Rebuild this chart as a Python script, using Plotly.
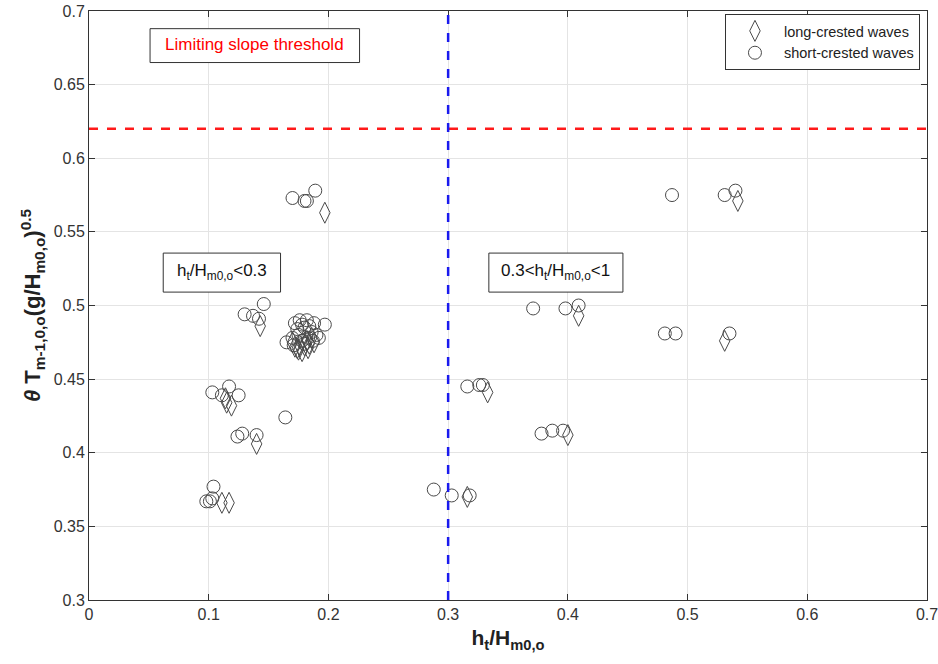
import plotly.graph_objects as go

# long-crested waves (diamonds)
long_x = [0.197, 0.143, 0.170, 0.172, 0.174, 0.176, 0.178, 0.180, 0.182, 0.184, 0.186, 0.188, 0.175, 0.183,
          0.114, 0.115, 0.119, 0.140, 0.111, 0.117,
          0.316, 0.333, 0.400, 0.409, 0.542, 0.531]
long_y = [0.563, 0.486, 0.475, 0.472, 0.471, 0.473, 0.469, 0.473, 0.476, 0.474, 0.478, 0.475, 0.470, 0.471,
          0.437, 0.434, 0.432, 0.406, 0.366, 0.366,
          0.370, 0.441, 0.412, 0.493, 0.571, 0.476]

# short-crested waves (circles)
short_x = [0.170, 0.180, 0.182, 0.189,
           0.130, 0.137, 0.142, 0.146,
           0.165, 0.170, 0.172, 0.174, 0.176, 0.178, 0.180, 0.182, 0.184, 0.186, 0.188, 0.190, 0.192, 0.197,
           0.175, 0.178, 0.183, 0.187, 0.171, 0.180,
           0.164, 0.103, 0.117, 0.125, 0.111, 0.124, 0.128, 0.140,
           0.104, 0.098, 0.101, 0.103,
           0.288, 0.303, 0.318, 0.316, 0.326, 0.329,
           0.378, 0.387, 0.396, 0.371, 0.398, 0.409,
           0.487, 0.531, 0.540, 0.481, 0.490, 0.535]
short_y = [0.573, 0.571, 0.571, 0.578,
           0.494, 0.493, 0.491, 0.501,
           0.475, 0.478, 0.488, 0.484, 0.490, 0.487, 0.485, 0.490, 0.486, 0.482, 0.488, 0.480, 0.478, 0.487,
           0.480, 0.476, 0.478, 0.476, 0.473, 0.474,
           0.424, 0.441, 0.445, 0.439, 0.439, 0.411, 0.413, 0.412,
           0.377, 0.367, 0.367, 0.369,
           0.375, 0.371, 0.371, 0.445, 0.446, 0.446,
           0.413, 0.415, 0.415, 0.498, 0.498, 0.500,
           0.575, 0.575, 0.578, 0.481, 0.481, 0.481]

threshold_y = 0.62
split_x = 0.3

x_ticks = [0, 0.1, 0.2, 0.3, 0.4, 0.5, 0.6, 0.7]
y_ticks = [0.3, 0.35, 0.4, 0.45, 0.5, 0.55, 0.6, 0.65, 0.7]

FONT = "Liberation Sans, Arial, sans-serif"
mcol = "#4a4a4a"

fig = go.Figure()
fig.add_trace(go.Scatter(
    x=long_x, y=long_y, mode="markers", name="long-crested waves",
    marker=dict(symbol="diamond-tall-open", size=15, color=mcol, line=dict(width=1, color=mcol)),
))
fig.add_trace(go.Scatter(
    x=short_x, y=short_y, mode="markers", name="short-crested waves",
    marker=dict(symbol="circle-open", size=13, color=mcol, line=dict(width=1, color=mcol)),
))

fig.add_shape(type="line", xref="paper", x0=0, x1=1, yref="y", y0=threshold_y, y1=threshold_y,
              line=dict(color="#ff1a1a", width=2.5, dash="dash"))
fig.add_shape(type="line", xref="x", x0=split_x, x1=split_x, yref="paper", y0=0, y1=1,
              line=dict(color="#1a1aee", width=2.5, dash="dash"))

# text boxes
boxes = [
    (0.051, 0.226, 0.665, 0.688, "Limiting slope threshold", "#ff0000"),
    (0.062, 0.160, 0.5091, 0.5356, "h<sub>t</sub>/H<sub>m0,o</sub>&lt;0.3", "#111111"),
    (0.334, 0.446, 0.5091, 0.5356, "0.3&lt;h<sub>t</sub>/H<sub>m0,o</sub>&lt;1", "#111111"),
]
for x0, x1, y0, y1, txt, col in boxes:
    fig.add_shape(type="rect", xref="x", yref="y", x0=x0, x1=x1, y0=y0, y1=y1,
                  line=dict(color="#333333", width=1), fillcolor="white", layer="above")
    fig.add_annotation(x=(x0 + x1) / 2, y=(y0 + y1) / 2 + 0.0005, xref="x", yref="y", text=txt,
                       showarrow=False, font=dict(family=FONT, size=17, color=col))

axis_common = dict(
    showgrid=True, gridcolor="#e4e4e4", gridwidth=1,
    showline=True, linecolor="#333333", linewidth=1, mirror="ticks",
    ticks="inside", ticklen=6, tickcolor="#333333",
    tickfont=dict(family=FONT, size=16, color="#333333"),
    zeroline=False, automargin=False, ticklabeloverflow="allow",
)

fig.update_layout(
    width=938, height=664,
    margin=dict(l=89, r=11, t=11, b=64),
    plot_bgcolor="white", paper_bgcolor="white",
    font=dict(family=FONT),
    xaxis=dict(range=[0, 0.7], tickvals=x_ticks, ticktext=[str(t) for t in x_ticks],
               title=dict(text="<b>h<sub>t</sub>/H<sub>m0,o</sub></b>", font=dict(family=FONT, size=21, color="#222222"),
                          standoff=8),
               **axis_common),
    yaxis=dict(range=[0.3, 0.7], tickvals=y_ticks, ticktext=[str(t) for t in y_ticks],
               title=dict(text="<b><i>θ</i> T<sub>m-1,0,o</sub>(g/H<sub>m0,o</sub>)<sup>0.5</sup></b>",
                          font=dict(family=FONT, size=22, color="#222222"), standoff=6),
               **axis_common),
    legend=dict(x=0.9916, y=0.995, xanchor="right", yanchor="top",
                bordercolor="#333333", borderwidth=1, bgcolor="white",
                font=dict(family=FONT, size=14.5, color="#222222"), tracegroupgap=0,
                itemwidth=48),
    showlegend=True,
)

fig.write_html("out.html", config={"displayModeBar": False},
               post_script="document.body.style.margin='0';document.body.style.overflow='hidden';")
